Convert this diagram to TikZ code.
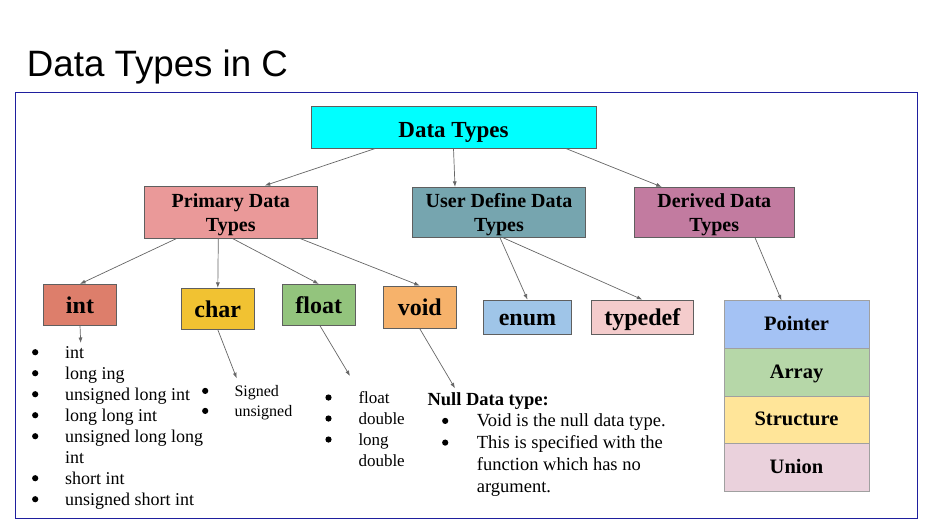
\documentclass[tikz,border=0pt]{standalone}
\usepackage{fontspec}
\setmainfont{Liberation Serif}
\newfontfamily\headfont{Liberation Sans}
\usetikzlibrary{arrows.meta}
\definecolor{FrameBlue}{HTML}{1F1F9E}
\definecolor{EdgeGray}{HTML}{5F5F5F}
\definecolor{LineGray}{HTML}{666666}
\definecolor{CellGray}{HTML}{A0A0A0}
\definecolor{TopCyan}{HTML}{00FFFF}
\definecolor{PrimRed}{HTML}{EA9999}
\definecolor{UserTeal}{HTML}{76A5AF}
\definecolor{DerivPlum}{HTML}{C27BA0}
\definecolor{IntRed}{HTML}{DD7E6B}
\definecolor{CharGold}{HTML}{F1C232}
\definecolor{FloatGreen}{HTML}{93C47D}
\definecolor{VoidOrange}{HTML}{F6B26B}
\definecolor{EnumBlue}{HTML}{9FC5E8}
\definecolor{TypedefRose}{HTML}{F4CCCC}
\definecolor{PtrBlue}{HTML}{A4C2F4}
\definecolor{ArrGreen}{HTML}{B6D7A8}
\definecolor{StructYellow}{HTML}{FFE599}
\definecolor{UnionPink}{HTML}{EAD1DC}
\newcommand{\blob}{\tikz[baseline=-6pt]\fill[black] (0,0) circle (3.1pt);}

\begin{document}
\begin{tikzpicture}[x=1pt, y=-1pt,
  box/.style={draw=EdgeGray, line width=0.8pt, inner sep=0pt, align=center,
    text height=39pt, text depth=0pt, font=\fontsize{20}{24}\selectfont\bfseries},
  leaf/.style={box, text height=17pt, font=\fontsize{24}{28}\selectfont\bfseries},
  cell/.style={draw=CellGray, line width=0.6pt, inner sep=0pt, minimum width=145pt,
    minimum height=47.6pt, text height=12pt, text depth=0pt,
    font=\fontsize{20.5}{24}\selectfont\bfseries},
  conn/.style={draw=LineGray, line width=0.7pt, -{Latex[length=5.5pt,width=4pt]}},
  list/.style={anchor=north west, inner sep=0pt, align=left}]
  \useasboundingbox (0,0) rectangle (936,528);

  % Heading and frame
  \node[anchor=base west, inner sep=0pt, font=\headfont\fontsize{36.7}{40}\selectfont]
    (title) at (26.7,76.7) {Data Types in C};
  \draw[FrameBlue, line width=1pt] (15,92) rectangle (917,518.5);

  % Top level
  \node[box, fill=TopCyan, minimum width=285pt, minimum height=41.5pt, text height=19.2pt,
    font=\fontsize{23}{26}\selectfont\bfseries] (dt) at (453.5,127.4) {Data Types};

  % Three families
  \node[box, fill=PrimRed, minimum width=173.7pt, minimum height=52pt] (prim)
    at (230.8,212) {Primary Data\\Types};
  \node[box, fill=UserTeal, minimum width=173.4pt, minimum height=50pt] (user)
    at (499,212.3) {User Define Data\\Types};
  \node[box, fill=DerivPlum, minimum width=160pt, minimum height=50pt] (deriv)
    at (714.3,212.3) {Derived Data\\Types};

  % Primary leaves
  \node[leaf, fill=IntRed, minimum width=73.4pt, minimum height=40.7pt] (intbox)
    at (80,304.7) {int};
  \node[leaf, fill=CharGold, minimum width=73pt, minimum height=41pt] (charbox)
    at (217.8,308.8) {char};
  \node[leaf, fill=FloatGreen, minimum width=73pt, minimum height=40.7pt] (floatbox)
    at (318.8,304.7) {float};
  \node[leaf, fill=VoidOrange, minimum width=73pt, minimum height=42.3pt] (voidbox)
    at (419.8,307.2) {void};

  % User defined leaves
  \node[leaf, fill=EnumBlue, minimum width=88.4pt, minimum height=34pt] (enumbox)
    at (527.5,317) {enum};
  \node[leaf, fill=TypedefRose, minimum width=102pt, minimum height=34pt] (typedefbox)
    at (642.3,317) {typedef};

  % Derived stack
  \node[cell, fill=PtrBlue] (ptr) at (796.5,324.5) {Pointer};
  \node[cell, fill=ArrGreen] (arr) at (796.5,372.1) {Array};
  \node[cell, fill=StructYellow] (struct) at (796.5,419.7) {Structure};
  \node[cell, fill=UnionPink] (union) at (796.5,467.2) {Union};

  % Lists under the primary types
  \node[list, font=\fontsize{18}{21}\selectfont] (intlist) at (31.9,343.3) {%
    \begin{tabular}{@{}p{33.1pt}@{}l@{}}
      \blob & int\\
      \blob & long ing\\
      \blob & unsigned long int\\
      \blob & long long int\\
      \blob & unsigned long long\\
            & int\\
      \blob & short int\\
      \blob & unsigned short int
    \end{tabular}};
  \node[list, font=\fontsize{16}{20}\selectfont] (charlist) at (201.9,382.7) {%
    \begin{tabular}{@{}p{32.4pt}@{}l@{}}
      \blob & Signed\\
      \blob & unsigned
    \end{tabular}};
  \node[list, font=\fontsize{17}{21}\selectfont] (floatlist) at (325.2,388.6) {%
    \begin{tabular}{@{}p{33.1pt}@{}l@{}}
      \blob & float\\
      \blob & double\\
      \blob & long\\
            & double
    \end{tabular}};
  \node[list, font=\fontsize{18.5}{21.7}\selectfont] (voidlist) at (427.3,389.8) {%
    \begin{tabular}{@{}p{14.6pt}@{}p{34.8pt}@{}l@{}}
      \multicolumn{3}{@{}l@{}}{\bfseries Null Data type:}\\
      & \blob & Void is the null data type.\\
      & \blob & This is specified with the\\
      &       & function which has no\\
      &       & argument.
    \end{tabular}};

  % Free ends of the list arrows
  \coordinate (intend) at (80.7,343);
  \coordinate (charend) at (236.7,378.3);
  \coordinate (floatend) at (350,376);
  \coordinate (voidend) at (455,388.3);

  % Connectors
  \draw[conn] ([xshift=-78.5pt]dt.south) -- ([xshift=34pt]prim.north);
  \draw[conn] (dt.south) -- ([xshift=-44pt]user.north);
  \draw[conn] ([xshift=112.5pt]dt.south) -- ([xshift=-52.6pt]deriv.north);
  \draw[conn] ([xshift=-54pt]prim.south) -- (intbox.north);
  \draw[conn] ([xshift=-12.5pt]prim.south) -- (charbox.north);
  \draw[conn] ([xshift=1.5pt]prim.south) -- (floatbox.north);
  \draw[conn] ([xshift=69pt]prim.south) -- (voidbox.north);
  \draw[conn] ([xshift=1pt]user.south) -- (enumbox.north);
  \draw[conn] ([xshift=4pt]user.south) -- (typedefbox.north);
  \draw[conn] ([xshift=40.7pt]deriv.south) -- ([xshift=-15pt]ptr.north);
  \draw[conn] (intbox.south) -- (intend);
  \draw[conn] (charbox.south) -- (charend);
  \draw[conn] ([xshift=1pt]floatbox.south) -- (floatend);
  \draw[conn] (voidbox.south) -- (voidend);
\end{tikzpicture}
\end{document}
